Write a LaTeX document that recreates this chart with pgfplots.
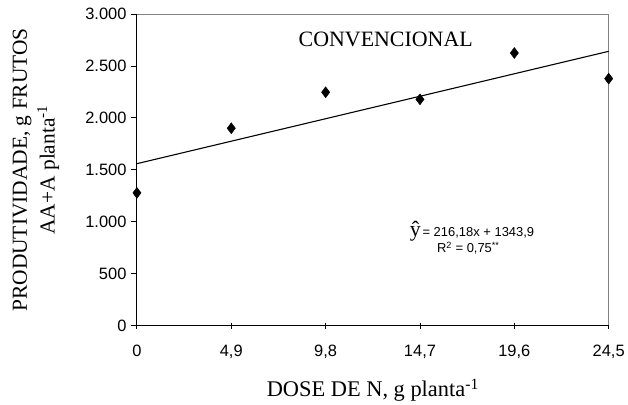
\documentclass[border=0pt]{standalone}
\usepackage{fontspec}
\setmainfont{Liberation Serif}
\newfontfamily\arial{Liberation Sans}
\usepackage{pgfplots}
\pgfplotsset{compat=1.18}
\begin{document}
\begin{tikzpicture}
\begin{axis}[
  name=ax,
  scale only axis,
  width=472bp, height=312bp,
  xmin=0, xmax=24.5, ymin=0, ymax=3000,
  xtick={0,4.9,9.8,14.7,19.6,24.5},
  xticklabels={0,{4,9},{9,8},{14,7},{19,6},{24,5}},
  ytick={0,500,1000,1500,2000,2500,3000},
  yticklabels={0,500,1.000,1.500,2.000,2.500,3.000},
  axis line style={draw=gray, line width=0.9bp},
  major tick length=6bp,
  xtick align=center,
  ytick align=outside,
  x tick style={black, line width=0.9bp},
  y tick style={black, line width=0.9bp},
  xtick pos=bottom, ytick pos=left,
  ticklabel style={font=\arial\fontsize{16.5}{18}\selectfont, text=black},
  /pgf/number format/assume math mode=true,
  xticklabel style={anchor=base, yshift=-28bp},
  yticklabel style={xshift=-1bp},
  clip=false,
  xlabel={DOSE DE N, g planta\textsuperscript{-1}},
  xlabel style={at={(rel axis cs:0.5,0)}, anchor=base, yshift=-71bp, font=\fontsize{22.5}{24}\selectfont},
  ylabel={PRODUTIVIDADE, g FRUTOS\\AA+A planta\textsuperscript{-1}},
  ylabel style={at={(rel axis cs:0,0.5)}, anchor=center, yshift=101bp, align=center, font=\fontsize{21.5}{28}\selectfont},
]
\addplot[only marks, mark=diamond*, mark size=5.5bp, black] coordinates {
  (0,1279) (4.9,1901) (9.8,2247) (14.7,2179) (19.6,2625) (24.5,2378)
};
\addplot[black, line width=1.1bp] coordinates {(0,1560.08) (24.5,2641.0)};
\draw[black, line width=1.1bp] (rel axis cs:0,1) -- (rel axis cs:0,0) -- (rel axis cs:1,0);
\node[anchor=base, font=\fontsize{22}{24}\selectfont] at (axis cs:12.92,2692) {CONVENCIONAL};
\node[anchor=base west, inner sep=0pt] at (axis cs:14.17,856) {{\fontsize{22}{22}\selectfont ŷ}\,{\arial\fontsize{13}{15}\selectfont = 216,18x + 1343,9}};
\node[anchor=base, inner sep=0pt, font=\arial\fontsize{13}{15}\selectfont] at (axis cs:17.21,702) {R\textsuperscript{2} = 0,75\textsuperscript{**}};
\end{axis}
\path ([shift={(-137bp,-74bp)}]ax.south west) rectangle ([shift={(19bp,14bp)}]ax.north east);
\end{tikzpicture}
\end{document}
